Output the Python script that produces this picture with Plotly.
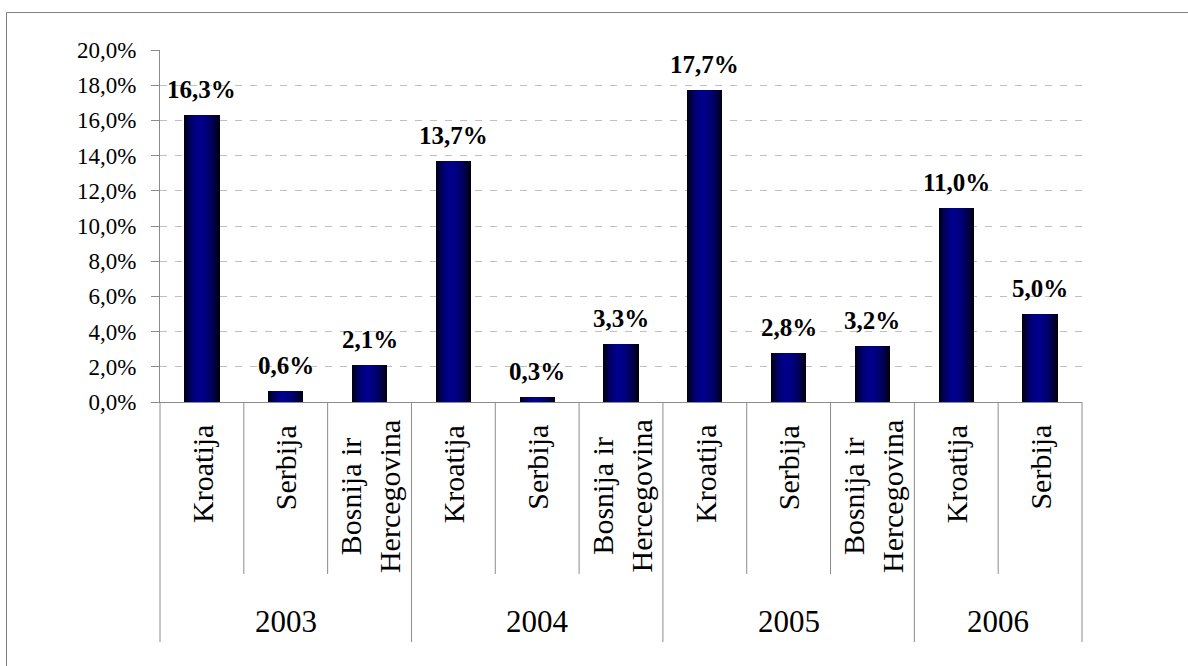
import plotly.graph_objects as go

# Shares by country and year (percent)
years = ["2003", "2004", "2005", "2006"]
countries = [
    "Kroatija", "Serbija", "Bosnija ir Hercegovina",
    "Kroatija", "Serbija", "Bosnija ir Hercegovina",
    "Kroatija", "Serbija", "Bosnija ir Hercegovina",
    "Kroatija", "Serbija",
]
country_years = [
    "2003", "2003", "2003",
    "2004", "2004", "2004",
    "2005", "2005", "2005",
    "2006", "2006",
]
values = [16.3, 0.6, 2.1, 13.7, 0.3, 3.3, 17.7, 2.8, 3.2, 11.0, 5.0]
y_ticks = [0, 2, 4, 6, 8, 10, 12, 14, 16, 18, 20]

FONT = "Liberation Serif"
W, H = 1188, 666
L, R, T, B = 160, 106, 50, 264
PW, PH = W - L - R, H - T - B

n = len(values)
xs = list(range(n))
x_min, x_max = -0.5, n - 0.5


def pct(v):
    return f"{v:.1f}%".replace(".", ",")


def px_to_paper_y(py):
    return (T + PH - py) / PH


def px_to_paper_x(px):
    return (px - L) / PW


def data_to_paper_x(x):
    return (x - x_min) / (x_max - x_min)


def wrap(label):
    if len(label) > 12 and " " in label:
        head, tail = label.rsplit(" ", 1)
        return head + "<br>" + tail
    return label


fig = go.Figure()

# Bars with a horizontal shading: nested layers, darkest outside, brightest near the middle
bar_w = 0.42
peak = 0.42
edge_b, center_b = 0x14, 0x8c
layers = [1.0, 0.92, 0.84, 0.76, 0.68, 0.6, 0.52, 0.44, 0.36, 0.28, 0.2, 0.12]
for t in layers:
    b = int(round(edge_b + (center_b - edge_b) * (1 - t ** 2)))
    fig.add_trace(go.Bar(
        x=xs, y=values,
        width=bar_w * t,
        offset=-bar_w / 2 + peak * bar_w * (1 - t),
        marker=dict(color=f"rgb(0,0,{b})", line=dict(width=0)),
        hoverinfo="skip", showlegend=False,
    ))

annotations = []

# Value labels above bars
for x, v in zip(xs, values):
    annotations.append(dict(
        x=x, y=v, xref="x", yref="y", text=f"<b>{pct(v)}</b>",
        showarrow=False, yanchor="bottom", xanchor="center", yshift=10,
        font=dict(family=FONT, size=25, color="black"),
    ))

# Rotated country labels (two-line labels start a little higher)
for x, c in zip(xs, countries):
    label = wrap(c)
    top_px = 418 if "<br>" in label else 423
    annotations.append(dict(
        x=x, y=px_to_paper_y(top_px), xref="x", yref="paper", text=label,
        showarrow=False, textangle=-90, yanchor="top", xanchor="center",
        align="center", font=dict(family=FONT, size=30, color="black"),
    ))

# Year group labels
for yr in years:
    idx = [i for i, cy in enumerate(country_years) if cy == yr]
    annotations.append(dict(
        x=(idx[0] + idx[-1]) / 2, y=px_to_paper_y(621), xref="x", yref="paper",
        text=yr, showarrow=False, yanchor="middle", xanchor="center",
        font=dict(family=FONT, size=31, color="black"),
    ))

shapes = []
line_col = "#8c8c8c"
# Category dividers below the axis
for i in range(n + 1):
    xb = i - 0.5
    if i == 0 or i == n or country_years[i] != country_years[i - 1]:
        bottom = 642
    else:
        bottom = 574
    shapes.append(dict(
        type="line", xref="paper", yref="paper",
        x0=data_to_paper_x(xb), x1=data_to_paper_x(xb),
        y0=0, y1=px_to_paper_y(bottom),
        line=dict(color=line_col, width=1),
    ))

# Outer chart frame
shapes.append(dict(
    type="rect", xref="paper", yref="paper",
    x0=px_to_paper_x(6.5), x1=px_to_paper_x(W + 20),
    y0=px_to_paper_y(H + 20), y1=px_to_paper_y(12.5),
    line=dict(color="#808080", width=1), fillcolor="rgba(0,0,0,0)",
))

fig.update_layout(
    width=W, height=H,
    margin=dict(l=L, r=R, t=T, b=B, pad=0),
    paper_bgcolor="white", plot_bgcolor="white",
    barmode="overlay", bargap=0,
    showlegend=False,
    font=dict(family=FONT, color="black"),
    annotations=annotations, shapes=shapes,
    xaxis=dict(
        range=[x_min, x_max], showticklabels=False, ticks="",
        showgrid=False, zeroline=False,
        showline=True, linecolor=line_col, linewidth=1,
        fixedrange=True,
    ),
    yaxis=dict(
        range=[0, 20], tickvals=y_ticks, ticktext=[pct(v) for v in y_ticks],
        tickfont=dict(family=FONT, size=23, color="black"),
        ticks="outside", ticklen=8, tickcolor=line_col, tickwidth=1,
        ticklabelstandoff=10,
        showline=True, linecolor=line_col, linewidth=1,
        showgrid=True, gridcolor="#c0c0c0", gridwidth=1, griddash="7px,8px",
        zeroline=False, fixedrange=True,
    ),
)

fig.write_html("out.html")
